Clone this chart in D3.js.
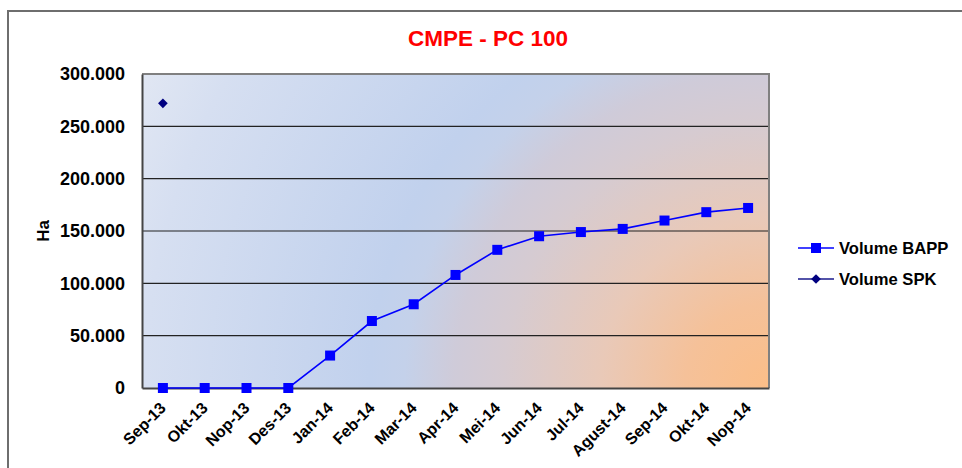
<!DOCTYPE html>
<html>
<head>
<meta charset="utf-8">
<style>
  body { margin: 0; background: #fff; }
  svg { display: block; font-family: Arial, "Liberation Sans", sans-serif; font-weight: bold; }
</style>
</head>
<body>
<svg width="962" height="468"></svg>
<script src="https://cdn.jsdelivr.net/npm/d3@7"></script>
<script>
// data
var months = ["Sep-13", "Okt-13", "Nop-13", "Des-13", "Jan-14", "Feb-14", "Mar-14", "Apr-14",
              "Mei-14", "Jun-14", "Jul-14", "Agust-14", "Sep-14", "Okt-14", "Nop-14"];
var bapp = [0, 0, 0, 0, 31000, 64000, 80000, 108000, 132000, 145000, 149000, 152000, 160000, 168000, 172000];
var spk = [272000, null, null, null, null, null, null, null, null, null, null, null, null, null, null];
var yTicks = [0, 50000, 100000, 150000, 200000, 250000, 300000];
var seriesNames = ["Volume BAPP", "Volume SPK"];

var svg = d3.select("svg"),
    margin = {top: 74, right: 193, bottom: 80, left: 142},
    width = +svg.attr("width") - margin.left - margin.right,
    height = +svg.attr("height") - margin.top - margin.bottom;

// dots as thousands separator: 250.000
var fmt = d3.formatLocale({decimal: ",", thousands: ".", grouping: [3], currency: ["", ""]}).format(",");

var x = d3.scaleBand().domain(months).range([0, width]).padding(0),
    y = d3.scaleLinear().domain([0, 300000]).range([height, 0]);

// outer chart frame
svg.append("rect")
    .attr("x", 8).attr("y", 11)
    .attr("width", 980).attr("height", 480)
    .attr("fill", "none")
    .attr("stroke", "#6e6e6e")
    .attr("stroke-width", 2);

// background of plot area: orange corner bottom right, blue ring, pale top left
var grad = svg.append("defs").append("radialGradient")
    .attr("id", "bg")
    .attr("gradientUnits", "userSpaceOnUse")
    .attr("cx", width).attr("cy", height).attr("r", Math.sqrt(width * width + height * height));
[[0, "#fbbe88"], [0.12, "#f5c199"], [0.24, "#e9c9b8"], [0.38, "#d6cbd1"], [0.45, "#cfcbd9"],
 [0.52, "#c4d1ea"], [0.57, "#c1d1ed"], [0.89, "#d6dff1"], [1, "#e1e7f3"]].forEach(function(s) {
  grad.append("stop").attr("offset", s[0]).attr("stop-color", s[1]);
});

svg.append("text")
    .attr("x", 488).attr("y", 46)
    .attr("text-anchor", "middle")
    .attr("fill", "#ff0000")
    .style("font-size", "22.5px")
    .text("CMPE - PC 100");

var g = svg.append("g")
    .attr("transform", "translate(" + margin.left + "," + margin.top + ")");

g.append("rect")
    .attr("width", width).attr("height", height)
    .attr("fill", "url(#bg)");

// gridlines
g.selectAll(".grid")
    .data(yTicks.slice(1, -1))
    .enter().append("line")
      .attr("x1", 0).attr("x2", width)
      .attr("y1", function(d) { return y(d); })
      .attr("y2", function(d) { return y(d); })
      .attr("stroke", "#222")
      .attr("stroke-width", 1.2);

// plot borders: top/right lighter, left/bottom darker
g.append("path")
    .attr("d", "M0,0H" + width + "V" + height)
    .attr("fill", "none").attr("stroke", "#808080").attr("stroke-width", 2);

var yAxis = g.append("g")
    .call(d3.axisLeft(y).tickValues(yTicks).tickFormat(fmt).tickSize(0).tickPadding(17));
yAxis.select(".domain").attr("stroke", "#444").attr("stroke-width", 2);
yAxis.selectAll("text").style("font-size", "18px").attr("fill", "#000");

var xAxis = g.append("g")
    .attr("transform", "translate(0," + height + ")")
    .call(d3.axisBottom(x).tickSize(0));
xAxis.select(".domain").attr("stroke", "#444").attr("stroke-width", 2);
xAxis.selectAll("text")
    .style("font-size", "16px")
    .attr("fill", "#000")
    .attr("text-anchor", "end")
    .attr("y", 0).attr("dy", 0)
    .attr("transform", "translate(4,21) rotate(-45)");

svg.append("text")
    .attr("transform", "translate(49,231) rotate(-90)")
    .attr("text-anchor", "middle")
    .style("font-size", "17px")
    .text("Ha");

// BAPP line and square markers
var line = d3.line()
    .defined(function(d) { return d != null; })
    .x(function(d, i) { return x(months[i]) + x.bandwidth() / 2; })
    .y(function(d) { return y(d); });

g.append("path")
    .datum(bapp)
    .attr("d", line)
    .attr("fill", "none")
    .attr("stroke", "#0000ff")
    .attr("stroke-width", 1.6);

g.selectAll(".sq")
    .data(bapp)
    .enter().append("rect")
      .attr("x", function(d, i) { return x(months[i]) + x.bandwidth() / 2 - 5; })
      .attr("y", function(d) { return y(d) - 5; })
      .attr("width", 10).attr("height", 10)
      .attr("fill", "#0000ff");

// SPK diamond
var diamond = d3.symbol().type(d3.symbolDiamond2).size(60);
g.selectAll(".dm")
    .data(spk.map(function(d, i) { return {v: d, m: months[i]}; }).filter(function(d) { return d.v != null; }))
    .enter().append("path")
      .attr("d", diamond)
      .attr("transform", function(d) { return "translate(" + (x(d.m) + x.bandwidth() / 2) + "," + y(d.v) + ")"; })
      .attr("fill", "#000080");

// legend
var leg = svg.selectAll(".leg")
    .data(seriesNames)
    .enter().append("g")
      .attr("transform", function(d, i) { return "translate(798," + (248 + i * 31) + ")"; });

leg.append("line")
    .attr("x1", 0).attr("x2", 36)
    .attr("stroke", function(d, i) { return i ? "#1a1a8c" : "#0000ff"; })
    .attr("stroke-width", 1.6);

leg.each(function(d, i) {
  var s = d3.select(this);
  if (i == 0) {
    s.append("rect").attr("x", 13).attr("y", -5).attr("width", 10).attr("height", 10).attr("fill", "#0000ff");
  } else {
    s.append("path").attr("d", diamond).attr("transform", "translate(18,0)").attr("fill", "#000080");
  }
});

leg.append("text")
    .attr("x", 41).attr("dy", "0.35em")
    .style("font-size", "16.6px")
    .text(function(d) { return d; });
</script>
</body>
</html>
